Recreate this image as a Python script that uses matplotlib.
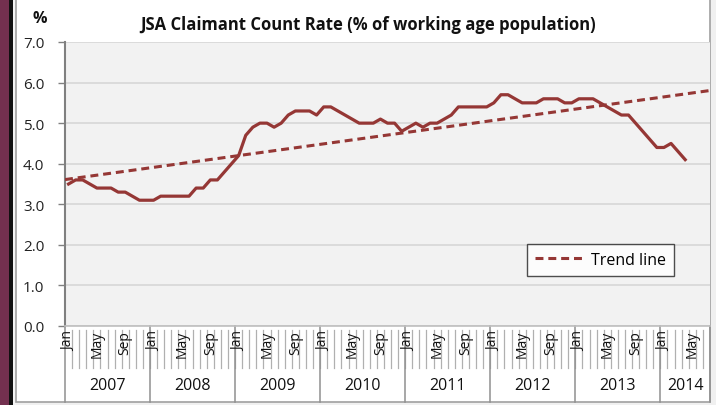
import numpy as np
import matplotlib.pyplot as plt
import matplotlib.transforms as mtransforms
from matplotlib.patches import Rectangle
from matplotlib.lines import Line2D

plt.rcParams['font.family'] = ['Open Sans', 'DejaVu Sans']

# monthly JSA claimant count rate, Jan 2007 - Apr 2014
years = ["2007", "2008", "2009", "2010", "2011", "2012", "2013", "2014"]
months_in_year = [12, 12, 12, 12, 12, 12, 12, 7]
month_names = ["Jan", "Feb", "Mar", "Apr", "May", "Jun",
               "Jul", "Aug", "Sep", "Oct", "Nov", "Dec"]
rate = [3.5, 3.6, 3.6, 3.5, 3.4, 3.4, 3.4, 3.3, 3.3, 3.2, 3.1, 3.1,
        3.1, 3.2, 3.2, 3.2, 3.2, 3.2, 3.4, 3.4, 3.6, 3.6, 3.8, 4.0,
        4.2, 4.7, 4.9, 5.0, 5.0, 4.9, 5.0, 5.2, 5.3, 5.3, 5.3, 5.2,
        5.4, 5.4, 5.3, 5.2, 5.1, 5.0, 5.0, 5.0, 5.1, 5.0, 5.0, 4.8,
        4.9, 5.0, 4.9, 5.0, 5.0, 5.1, 5.2, 5.4, 5.4, 5.4, 5.4, 5.4,
        5.5, 5.7, 5.7, 5.6, 5.5, 5.5, 5.5, 5.6, 5.6, 5.6, 5.5, 5.5,
        5.6, 5.6, 5.6, 5.5, 5.4, 5.3, 5.2, 5.2, 5.0, 4.8, 4.6, 4.4,
        4.4, 4.5, 4.3, 4.1]
yticks = [0.0, 1.0, 2.0, 3.0, 4.0, 5.0, 6.0, 7.0]

W, H = 716, 406
line_col = '#953735'
n_cat = sum(months_in_year)

fig = plt.figure(figsize=(W / 100, H / 100), dpi=100)
fig.patch.set_facecolor('#f0f0f0')

# outer frame pieces (pixel based), kept behind the axes
def px_rect(x0, y0, x1, y1, **kw):
    fig.patches.append(Rectangle((x0 / W, 1 - y1 / H), (x1 - x0) / W, (y1 - y0) / H,
                                 transform=fig.transFigure, zorder=-5, **kw))

px_rect(0, 0, 9, H, facecolor='#73304f', edgecolor='none')
px_rect(9, 0, 13, H, facecolor='#111111', edgecolor='none')
px_rect(13, 0, 16, H, facecolor='#f4f4f4', edgecolor='none')
px_rect(16, 0, 710, 403, facecolor='white', edgecolor='#a0a0a0', linewidth=1.2)

x0, x1, ytop, ybot = 65, 710, 43, 327
ax = fig.add_axes([x0 / W, 1 - ybot / H, (x1 - x0) / W, (ybot - ytop) / H])
ax.set_facecolor('#f2f2f2')

xs = np.arange(len(rate)) + 0.5
ax.plot(xs, rate, color=line_col, lw=2.3, solid_joinstyle='round', zorder=3)

# linear trend, extended over the whole category range
k, b = np.polyfit(xs, rate, 1)
tx = np.array([0, n_cat])
ax.plot(tx, k * tx + b, color=line_col, lw=2.2, linestyle=(0, (2.6, 1.6)), zorder=4)

ax.set_xlim(0, n_cat)
ax.set_ylim(0, 7)
ax.set_yticks(yticks)
ax.set_yticklabels([f"{v:.1f}" for v in yticks], fontsize=11, color='#222222')
ax.yaxis.grid(True, color='#d9d9d9', lw=1.3)
ax.set_axisbelow(True)
ax.tick_params(axis='y', length=5, width=1, color='#808080', pad=10)
ax.tick_params(axis='x', length=0, labelbottom=False)
for s in ['top', 'right']:
    ax.spines[s].set_visible(False)
ax.spines['left'].set_color('#808080')
ax.spines['left'].set_linewidth(1.5)
ax.spines['bottom'].set_color('#bfbfbf')
ax.spines['bottom'].set_linewidth(1.2)

# two-level category axis below the plot
trans = mtransforms.blended_transform_factory(ax.transData, ax.transAxes)
ph = ybot - ytop
y_month = -(369 - ybot) / ph
y_year = -(403 - ybot) / ph
for i in range(1, n_cat):
    ax.add_line(Line2D([i, i], [-4 / ph, y_month], transform=trans, color='#b0b0b0',
                       lw=0.9, clip_on=False))
pos = 0
for yr, n in zip(years, months_in_year):
    ax.add_line(Line2D([pos, pos], [0, y_year], transform=trans, color='#909090',
                       lw=1.1, clip_on=False))
    for m in range(0, n, 4):
        ax.text(pos + m + 0.5, -4 / ph, month_names[m], transform=trans, rotation=90,
                ha='center', va='top', fontsize=10, color='#111111')
    ax.text(pos + n / 2, (y_month + y_year) / 2, yr, transform=trans, ha='center',
            va='center', fontsize=11.5, color='#111111')
    pos += n
ax.add_line(Line2D([pos, pos], [0, y_year], transform=trans, color='#909090',
                   lw=1.1, clip_on=False))

fig.text(368 / W, 1 - 25 / H, "JSA Claimant Count Rate (% of working age population)",
         ha='center', va='center', fontsize=12, fontweight='bold', color='#111111')
fig.text(40 / W, 1 - 19 / H, "%", ha='center', va='center', fontsize=11.5,
         fontweight='bold', color='#111111')

leg = ax.legend([Line2D([], [], color=line_col, lw=2.2, linestyle=(0, (2.6, 1.6)))],
                ["Trend line"], loc='upper left',
                bbox_to_anchor=((527 - x0) / (x1 - x0), (ybot - 245) / ph),
                frameon=True, fancybox=False, fontsize=11.5, handlelength=3.0,
                borderpad=0.5, handletextpad=0.5, borderaxespad=0)
leg.get_frame().set_edgecolor('#222222')
leg.get_frame().set_linewidth(1.0)

fig.savefig('out.png', dpi=100, facecolor=fig.get_facecolor())
